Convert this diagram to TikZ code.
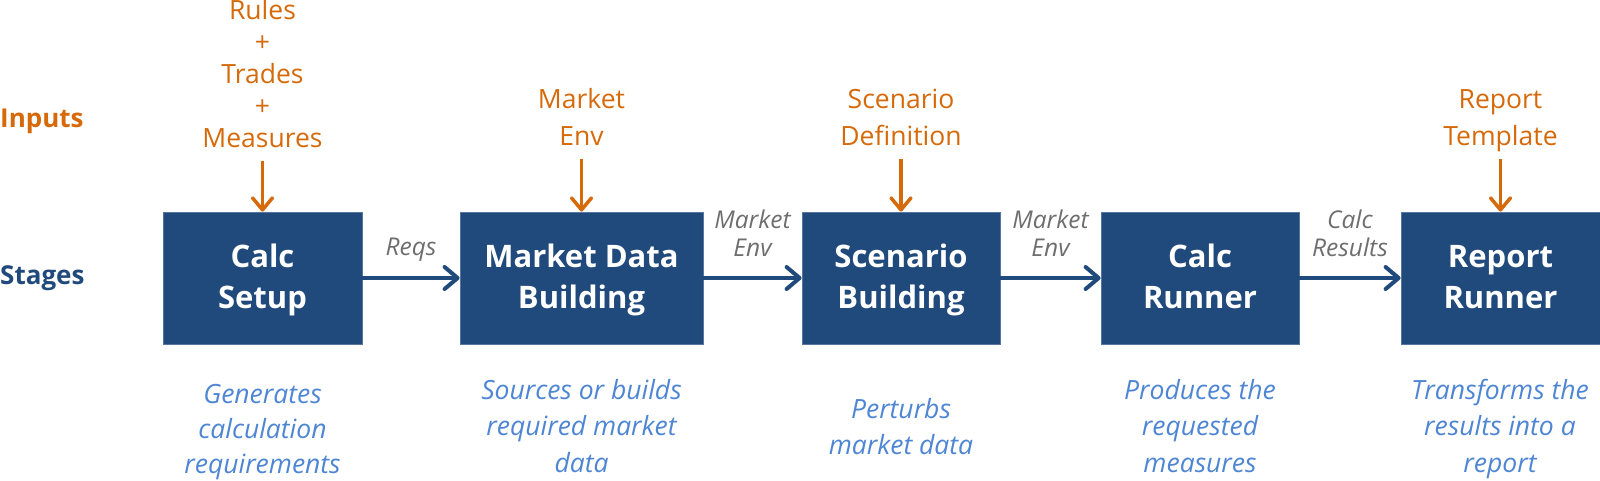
\documentclass[tikz,border=0pt]{standalone}
\usepackage{fontspec}
\setmainfont{Open Sans}
\usetikzlibrary{arrows.meta}
\definecolor{navy}{HTML}{214A7C}
\definecolor{inorange}{HTML}{D66A0B}
\definecolor{desc}{HTML}{4E86D4}
\definecolor{conn}{HTML}{6E6E6E}
\definecolor{boxedge}{HTML}{5676A0}
\newcommand{\bxtop}{\rule[-8pt]{0pt}{35pt}}
\newcommand{\intail}{\rule[-13pt]{0pt}{13pt}}
\newcommand{\dstop}{\rule{0pt}{22pt}}
\newcommand{\cntail}{\rule[-5pt]{0pt}{5pt}}
\begin{document}
\begin{tikzpicture}[x=1pt,y=-1pt,
  stagebox/.style={fill=navy, draw=boxedge, line width=0.8pt, minimum width=199pt, minimum height=132pt, inner sep=0pt, text=white, align=center, font=\fontsize{31}{41}\selectfont\bfseries},
  inlabel/.style={text=inorange, align=center, font=\fontsize{26.5}{37}\selectfont, inner sep=0pt, anchor=south},
  desclabel/.style={text=desc, align=center, font=\fontsize{26.5}{36.5}\selectfont\itshape, inner sep=0pt, anchor=north},
  connlabel/.style={text=conn, align=center, font=\fontsize{24.5}{28}\selectfont\itshape, inner sep=0pt},
  flow/.style={draw=navy, line width=4pt, -{Straight Barb[length=13pt,width=22pt,round]}},
  feed/.style={draw=inorange, line width=3.5pt, -{Straight Barb[length=12pt,width=20pt,round]}},
  rowlabel/.style={font=\fontsize{26}{30}\selectfont\bfseries, inner sep=0pt, anchor=base west}]
\useasboundingbox (0,0) rectangle (1600,480);

% row labels
\node[rowlabel, text=inorange] (inputs) at (0,127) {Inputs};
\node[rowlabel, text=navy] (stages) at (0,284) {Stages};

% stages
\node[stagebox] (calc) at (262.5,278) {\bxtop Calc\\Setup\bxtop};
\node[stagebox, minimum width=243pt] (mdb) at (581.5,278) {\bxtop Market Data\\Building\bxtop};
\node[stagebox, minimum width=198pt] (scen) at (901,278) {\bxtop Scenario\\Building\bxtop};
\node[stagebox, minimum width=198pt] (runner) at (1200,278) {\bxtop Calc\\Runner\bxtop};
\node[stagebox] (report) at (1500.5,278) {\bxtop Report\\Runner\bxtop};

% inputs
\node[inlabel, font=\fontsize{26.5}{32}\selectfont] (in1) at (262.5,161) {Rules\\+\\Trades\\+\\Measures\intail};
\node[inlabel] (in2) at (581.5,159) {Market\\Env\intail};
\node[inlabel] (in3) at (901,159) {Scenario\\Definition\intail};
\node[inlabel] (in4) at (1500.5,159) {Report\\Template\intail};

\draw[feed] (in1.south) -- (calc.north);
\draw[feed] (in2.south) -- (mdb.north);
\draw[feed] (in3.south) -- (scen.north);
\draw[feed] (in4.south) -- (report.north);

% flow
\draw[flow] (calc) -- node[connlabel, above=15pt] (c1) {Reqs\cntail} (mdb);
\draw[flow] (mdb) -- node[connlabel, above=15pt] (c2) {Market\\Env\cntail} (scen);
\draw[flow] (scen) -- node[connlabel, above=15pt] (c3) {Market\\Env\cntail} (runner);
\draw[flow] (runner) -- node[connlabel, above=15pt] (c4) {Calc\\Results\cntail} (report);

% descriptions
\node[desclabel, font=\fontsize{26.5}{35}\selectfont\itshape] (d1) at (262.5,381) {\dstop Generates\\calculation\\requirements};
\node[desclabel] (d2) at (581.5,377) {\dstop Sources or builds\\required market\\data};
\node[desclabel] (d3) at (901,396) {\dstop Perturbs\\market data};
\node[desclabel] (d4) at (1200,377) {\dstop Produces the\\requested\\measures};
\node[desclabel] (d5) at (1500,377) {\dstop Transforms the\\results into a\\report};
\end{tikzpicture}
\end{document}
